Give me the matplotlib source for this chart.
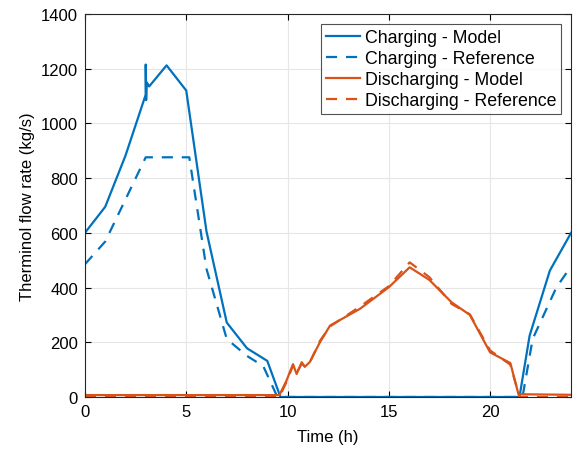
import matplotlib
matplotlib.use('Agg')
import matplotlib.pyplot as plt

plt.rcParams['font.family'] = ['Liberation Sans', 'DejaVu Sans']

# ---- charging (blue) ----
t_chg_model = [0, 1, 2, 3.0, 3.0, 3.02, 3.05, 3.17, 4.03, 5.0, 6.0, 7.0, 8.0, 9.0, 9.65,
               21.45, 21.95, 22.95, 24]
chg_model = [600, 695, 882, 1105, 1215, 1085, 1150, 1135, 1212, 1120, 605, 272, 178, 132, 0,
             0, 224, 462, 600]

t_chg_ref = [0, 1, 2, 3.0, 5.15, 6.0, 7.0, 8.0, 8.8, 9.5,
             21.6, 22.1, 23.27, 24]
chg_ref = [485, 568, 722, 876, 876, 468, 212, 150, 113, 0,
           0, 212, 400, 478]

# ---- discharging (orange) ----
t_dis_model = [0, 9.6, 9.95, 10.27, 10.45, 10.7, 10.85, 11.1, 11.6, 12.1, 13.57, 15.0, 16.03,
               17.0, 18.1, 19.0, 20.0, 21.0, 21.4, 24]
dis_model = [7, 7, 60, 120, 84, 127, 110, 128, 200, 261, 322, 401, 474,
             428, 346, 300, 163, 124, 10, 8]

t_dis_ref = [0, 9.6, 9.95, 10.27, 10.45, 10.7, 10.85, 11.1, 11.6, 12.1, 13.57, 15.0, 16.03,
             17.0, 18.1, 19.0, 20.0, 21.0, 21.45, 24]
dis_ref = [0, 0, 55, 115, 88, 122, 112, 126, 205, 258, 330, 405, 492,
           438, 340, 302, 170, 118, 0, 0]

blue = '#0072BD'
orange = '#D95319'

fig = plt.figure(figsize=(5.74, 4.52), dpi=100)
ax = fig.add_axes([0.148, 0.1195, 0.847, 0.8475])

ax.plot(t_chg_model, chg_model, '-', color=blue, lw=1.6, label='Charging - Model')
ax.plot(t_chg_ref, chg_ref, '--', color=blue, lw=1.6, dashes=(5, 4), label='Charging - Reference')
ax.plot(t_dis_model, dis_model, '-', color=orange, lw=1.6, label='Discharging - Model')
ax.plot(t_dis_ref, dis_ref, '--', color=orange, lw=1.6, dashes=(5, 4), label='Discharging - Reference')

ax.set_xlim(0, 24)
ax.set_ylim(0, 1400)
ax.set_xticks([0, 5, 10, 15, 20])
ax.set_yticks(range(0, 1401, 200))
ax.set_xlabel('Time (h)', fontsize=12, labelpad=7)
ax.set_ylabel('Therminol flow rate (kg/s)', fontsize=12, labelpad=4)
ax.tick_params(direction='in', top=True, right=True, labelsize=12, length=4, width=0.8, pad=5)
ax.grid(True, color='#e6e6e6', lw=0.8)
ax.set_axisbelow(True)
for s in ax.spines.values():
    s.set_linewidth(0.8)
    s.set_color('#262626')

leg = ax.legend(loc='upper right', fontsize=12.8, frameon=True, fancybox=False,
                edgecolor='#262626', handlelength=1.9, handletextpad=0.25,
                borderpad=0.3, labelspacing=0.22, borderaxespad=0.55)
leg.get_frame().set_linewidth(0.8)

fig.savefig('out.png', dpi=100)
